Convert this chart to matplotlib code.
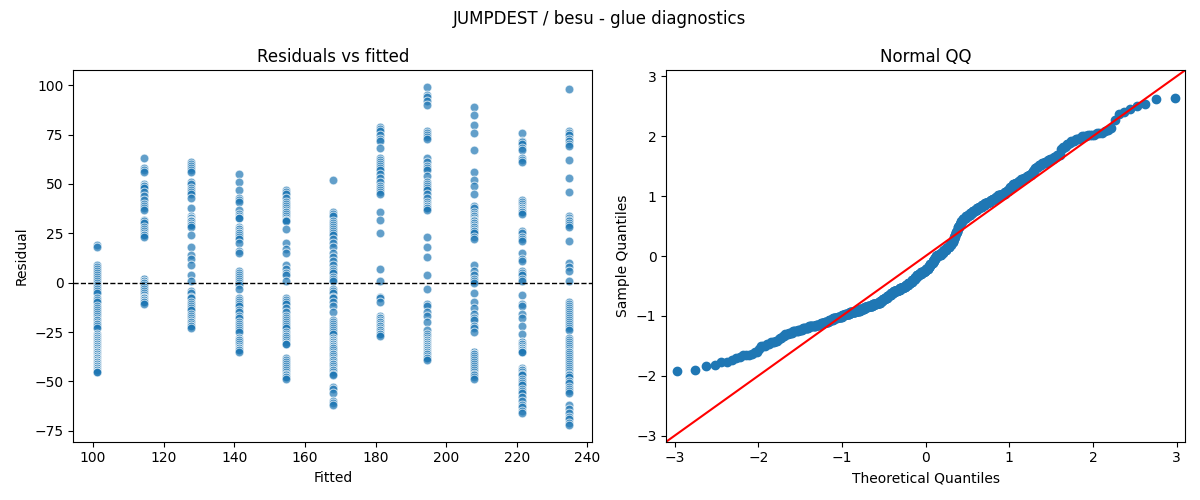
import matplotlib
matplotlib.use("Agg")
import matplotlib.pyplot as plt
import numpy as np
from statistics import NormalDist

# fitted value of each group (x positions of the columns)
fitted = [101.1, 114.5, 127.8, 141.2, 154.5, 167.9, 181.3, 194.6, 208.0, 221.4, 234.7]

# residuals
res_101 = [19, 18, 9, 8, 7, 6, 5, 4, 3, 2, 1, 0, -1, -2, -3, -4, -5, -8, -9, -10, -12, -13, -14,
           -15, -16, -17, -18, -19, -19, -20, -21, -21, -22, -23, -26, -27, -27, -28, -28, -29,
           -29, -30, -30, -31, -31, -32, -32, -33, -33, -34, -34, -35, -35, -35, -36, -36, -37,
           -37, -38, -38, -38, -39, -39, -40, -40, -40, -41, -41, -42, -42, -43, -43, -44, -44,
           -45, -45]
res_114 = [63, 58, 57, 56, 50, 49, 49, 48, 46, 44, 42, 40, 39, 38, 37, 32, 31, 30, 28, 27, 26,
           25, 24, 24, 23, 2, 2, 1, 1, 0, 0, -1, -2, -3, -4, -5, -6, -7, -8, -8, -9, -9, -10,
           -10, -11]
res_128 = [61, 60, 59, 58, 57, 56, 51, 50, 48, 47, 46, 45, 43, 38, 34, 33, 33, 32, 31, 31, 30,
           29, 29, 28, 24, 18, 14, 12, 9, 4, 1, -4, -5, -7, -8, -10, -11, -12, -13, -14, -16,
           -17, -18, -19, -20, -20, -21, -22, -22, -23]
res_141 = [55, 51, 47, 43, 42, 41, 37, 35, 34, 33, 33, 28, 27, 27, 26, 25, 25, 24, 23, 22, 20,
           16, 15, 6, 5, 4, 3, 2, 1, 0, -1, -3, -8, -9, -10, -11, -12, -14, -15, -17, -18, -20,
           -21, -22, -23, -24, -25, -28, -29, -29, -30, -31, -32, -33, -33, -34, -34, -35]
res_154 = [47, 46, 45, 43, 41, 40, 39, 38, 37, 36, 36, 35, 34, 33, 32, 32, 31, 27, 20, 17, 15,
           9, 7, 5, 4, 1, -8, -9, -10, -11, -13, -15, -17, -18, -19, -20, -21, -22, -23, -25,
           -26, -27, -27, -28, -29, -30, -31, -31, -38, -39, -40, -41, -42, -43, -44, -45, -46,
           -47, -48, -48, -49]
res_168 = [52, 36, 35, 34, 31, 30, 29, 28, 27, 26, 25, 24, 22, 20, 18, 15, 13, 11, 9, 7, 6, 5,
           3, 2, 1, -3, -4, -5, -7, -8, -10, -12, -15, -19, -20, -21, -22, -23, -24, -25, -26,
           -28, -29, -29, -30, -30, -31, -31, -32, -32, -33, -33, -34, -35, -36, -36, -37, -38,
           -39, -39, -40, -41, -41, -42, -43, -44, -44, -45, -46, -47, -53, -54, -56, -60, -61,
           -62]
res_181 = [79, 78, 77, 75, 73, 72, 68, 63, 62, 61, 60, 59, 58, 57, 55, 53, 51, 49, 48, 47, 46,
           45, 36, 32, 25, 7, 1, -7, -8, -10, -17, -18, -18, -19, -20, -20, -21, -22, -22, -23,
           -24, -24, -25, -26, -26, -27]
res_195 = [99, 95, 94, 92, 90, 77, 76, 75, 74, 73, 63, 61, 59, 58, 57, 54, 51, 50, 49, 48, 47,
           45, 43, 41, 40, 39, 39, 38, 38, 37, 23, 18, 13, 4, -3, -11, -12, -15, -17, -20, -24,
           -26, -27, -28, -29, -29, -30, -30, -31, -31, -32, -32, -33, -33, -34, -34, -35, -35,
           -36, -36, -37, -38, -38, -39]
res_208 = [89, 85, 80, 76, 67, 56, 52, 49, 45, 39, 38, 36, 35, 34, 34, 33, 32, 32, 31, 30, 30,
           29, 28, 28, 27, 26, 26, 25, 23, 22, 9, 6, 4, 2, 1, 0, -5, -10, -13, -16, -18, -19,
           -22, -23, -25, -35, -35, -36, -36, -36, -37, -38, -39, -40, -41, -42, -43, -44, -45,
           -46, -47, -48, -49]
res_221 = [76, 72, 71, 70, 68, 67, 63, 62, 61, 42, 41, 40, 39, 38, 38, 37, 37, 36, 36, 35, 26,
           25, 23, 22, 21, 15, 12, 11, 6, 5, 4, 2, 1, -6, -11, -12, -16, -18, -22, -26, -30, -30,
           -31, -31, -32, -33, -33, -34, -34, -35, -35, -43, -44, -44, -45, -46, -47, -49, -50,
           -51, -52, -54, -55, -56, -58, -60, -62, -63, -65, -66]
res_235 = [98, 77, 76, 75, 73, 72, 70, 69, 62, 53, 46, 34, 33, 32, 31, 30, 29, 28, 21, 10, 8, 6,
           1, -10, -11, -12, -13, -14, -15, -16, -17, -18, -19, -20, -21, -22, -23, -24, -28,
           -29, -30, -31, -32, -33, -34, -35, -35, -36, -37, -38, -39, -40, -41, -42, -43, -44,
           -45, -46, -47, -48, -50, -51, -53, -54, -55, -56, -62, -64, -66, -68, -69, -71, -72]

groups = [res_101, res_114, res_128, res_141, res_154, res_168,
          res_181, res_195, res_208, res_221, res_235]

x_all = np.concatenate([[f] * len(g) for f, g in zip(fitted, groups)])
r_all = np.concatenate(groups).astype(float)

fig, (ax1, ax2) = plt.subplots(1, 2, figsize=(12, 5))

# residuals vs fitted
ax1.scatter(x_all, r_all, s=40, color="#1f77b4", alpha=0.7, edgecolors="white", linewidths=0.75)
ax1.axhline(0, color="black", linestyle="--", linewidth=1)
ax1.set_title("Residuals vs fitted")
ax1.set_xlabel("Fitted")
ax1.set_ylabel("Residual")

# normal QQ of standardized residuals
z = np.sort((r_all - r_all.mean()) / r_all.std())
n = len(z)
nd = NormalDist()
theo = np.array([nd.inv_cdf(i / (n + 1)) for i in range(1, n + 1)])
ax2.plot(theo, z, "o", color="#1f77b4", markersize=6)
lim = (-3.1, 3.1)
ax2.plot(lim, lim, "r-")
ax2.set_xlim(lim)
ax2.set_ylim(lim)
ax2.set_title("Normal QQ")
ax2.set_xlabel("Theoretical Quantiles")
ax2.set_ylabel("Sample Quantiles")

fig.suptitle("JUMPDEST / besu - glue diagnostics")
fig.tight_layout()
fig.savefig("out.png", dpi=100)
